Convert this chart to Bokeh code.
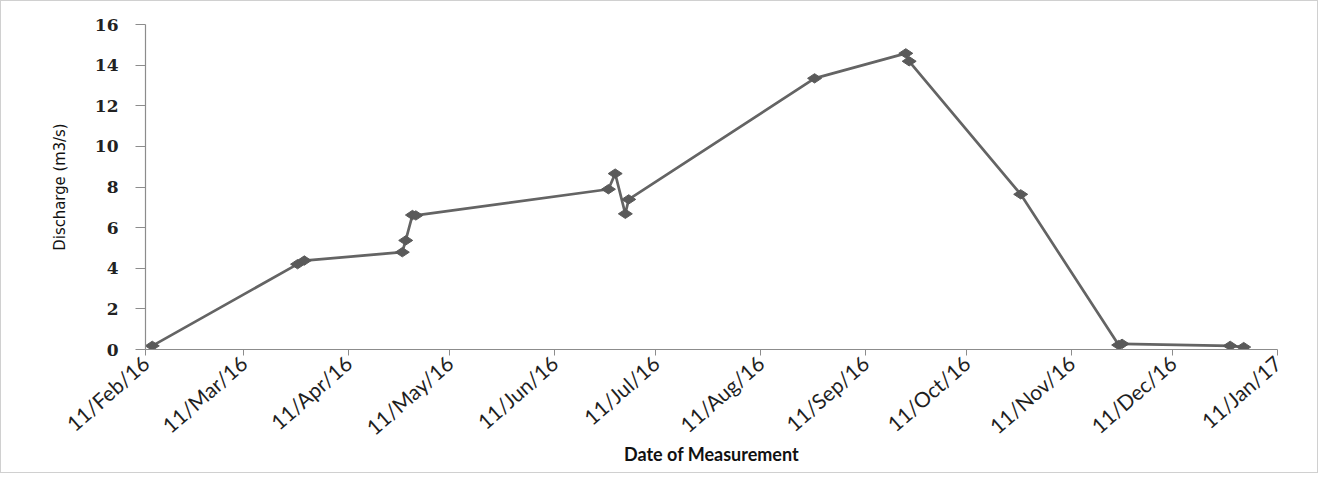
import math
import pandas as pd
from bokeh.plotting import figure
from bokeh.models import FixedTicker, DatetimeTickFormatter, Range1d, ColumnDataSource
from bokeh.embed import file_html
from bokeh.resources import INLINE

# ---- data ----
dates = ["2016-02-13", "2016-03-27", "2016-03-29", "2016-04-27", "2016-04-28",
         "2016-04-30", "2016-05-01", "2016-06-27", "2016-06-29", "2016-07-02",
         "2016-07-03", "2016-08-27", "2016-09-23", "2016-09-24", "2016-10-27",
         "2016-11-25", "2016-11-26", "2016-12-28", "2017-01-01"]
discharge = [0.18, 4.20, 4.38, 4.79, 5.37,
             6.62, 6.60, 7.89, 8.66, 6.68,
             7.39, 13.35, 14.58, 14.19, 7.64,
             0.22, 0.28, 0.18, 0.12]
tick_dates = ["2016-02-11", "2016-03-11", "2016-04-11", "2016-05-11", "2016-06-11",
              "2016-07-11", "2016-08-11", "2016-09-11", "2016-10-11", "2016-11-11",
              "2016-12-11", "2017-01-11"]
y_ticks = [0, 2, 4, 6, 8, 10, 12, 14, 16]

x = pd.to_datetime(dates)
src = ColumnDataSource(data=dict(date=x, q=discharge))
tick_ms = [pd.Timestamp(d).value / 1e6 for d in tick_dates]

p = figure(width=1318, height=473, x_axis_type="datetime",
           output_backend="svg", toolbar_location=None,
           x_range=Range1d(pd.Timestamp(tick_dates[0]), pd.Timestamp(tick_dates[-1])),
           y_range=Range1d(0, 16),
           min_border_left=144, min_border_right=42,
           min_border_top=23, min_border_bottom=125,
           styles={"border": "1px solid #d0d0d0"})

p.line("date", "q", source=src, line_color="#646464", line_width=2.7)
p.scatter("date", "q", source=src, marker="diamond", size=14, angle=math.pi / 2,
          fill_color="#5a5a5a", line_color="#5a5a5a")

p.outline_line_color = None
p.xgrid.grid_line_color = None
p.ygrid.grid_line_color = None
p.background_fill_color = "white"
p.border_fill_color = "white"

fmt = "%d/%b/%y"
p.xaxis.ticker = FixedTicker(ticks=tick_ms)
p.xaxis.formatter = DatetimeTickFormatter(days=fmt, months=fmt, years=fmt,
                                          hours=fmt, minutes=fmt, seconds=fmt,
                                          milliseconds=fmt, microseconds=fmt,
                                          hourmin=fmt, minsec=fmt)
p.xaxis.major_label_orientation = 0.72
p.xaxis.major_label_text_font = "Lato"
p.xaxis.major_label_text_font_size = "21px"
p.xaxis.major_label_text_color = "#1f1f1f"
p.xaxis.major_label_standoff = 4
p.xaxis.axis_label = "Date of Measurement"
p.xaxis.axis_label_text_font = "Lato"
p.xaxis.axis_label_text_font_style = "bold"
p.xaxis.axis_label_text_font_size = "18px"
p.xaxis.axis_label_text_color = "#111111"
p.xaxis.axis_label_standoff = -9

p.yaxis.ticker = FixedTicker(ticks=y_ticks)
p.yaxis.major_label_text_font = "DejaVu Serif"
p.yaxis.major_label_text_font_style = "bold"
p.yaxis.major_label_text_font_size = "17px"
p.yaxis.major_label_text_color = "#222222"
p.yaxis.major_label_standoff = 17
p.yaxis.axis_label = "Discharge (m3/s)"
p.yaxis.axis_label_text_font = "'Liberation Sans Narrow', 'DejaVu Sans Condensed', sans-serif"
p.yaxis.axis_label_text_font_style = "normal"
p.yaxis.axis_label_text_font_size = "16.5px"
p.yaxis.axis_label_text_color = "#111111"
p.yaxis.axis_label_standoff = 23

for ax in (p.xaxis, p.yaxis):
    ax.axis_line_color = "#8c8c8c"
    ax.axis_line_width = 1.2
    ax.major_tick_line_color = "#8c8c8c"
    ax.major_tick_in = 0
    ax.minor_tick_line_color = None
p.xaxis.major_tick_out = 6
p.yaxis.major_tick_out = 10

open("out.html", "w").write(file_html(p, INLINE))
